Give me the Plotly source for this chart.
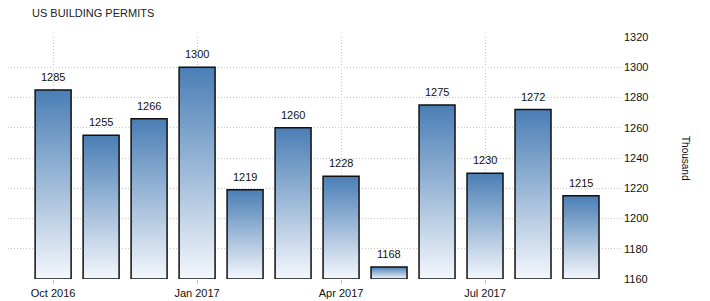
import plotly.graph_objects as go

months = ["Oct 2016", "Nov 2016", "Dec 2016", "Jan 2017", "Feb 2017", "Mar 2017",
          "Apr 2017", "May 2017", "Jun 2017", "Jul 2017", "Aug 2017", "Sep 2017"]
values = [1285, 1255, 1266, 1300, 1219, 1260, 1228, 1168, 1275, 1230, 1272, 1215]
tick_idx = [0, 3, 6, 9]
tick_labels = ["Oct 2016", "Jan 2017", "Apr 2017", "Jul 2017"]
y_ticks = [1160, 1180, 1200, 1220, 1240, 1260, 1280, 1300, 1320]
base = 1160
half_w = 0.375
FONT = "Liberation Sans, Arial"

fig = go.Figure()
for i, v in enumerate(values):
    fig.add_trace(go.Scatter(
        x=[i - half_w, i - half_w, i + half_w, i + half_w, i - half_w],
        y=[base, v, v, base, base],
        mode="lines",
        fill="toself",
        line=dict(color="#111111", width=1.5),
        fillgradient=dict(type="vertical",
                          colorscale=[[0, "#f4f7fc"], [1, "#4a7eb5"]]),
        hoverinfo="skip",
        showlegend=False,
    ))

annotations = [dict(x=i, y=v, xref="x", yref="y", text=str(v), showarrow=False,
                    yanchor="bottom", yshift=5,
                    font=dict(family=FONT, size=11, color="#111111"))
               for i, v in enumerate(values)]
annotations.append(dict(text="Thousand", textangle=90, xref="paper", yref="paper",
                        x=(686 - 8) / 615, y=0.5, xanchor="center", yanchor="middle",
                        showarrow=False,
                        font=dict(family=FONT, size=10, color="#111111")))

grid = dict(showgrid=True, gridcolor="#c8c8c8", griddash="1px,2px", gridwidth=1,
            zeroline=False, showline=False, automargin=False)

fig.update_layout(
    width=710, height=301,
    margin=dict(l=8, r=87, t=37, b=22),
    paper_bgcolor="white", plot_bgcolor="white",
    title=dict(text="US BUILDING PERMITS", x=32/710, xanchor="left", y=1 - 13/301, yanchor="middle",
               font=dict(family=FONT, size=11, color="#222222")),
    xaxis=dict(range=[-0.94, 11.875], tickvals=tick_idx, ticktext=tick_labels,
               ticks="outside", ticklen=4, tickcolor="#c8c8c8",
               tickfont=dict(family=FONT, size=11, color="#111111"), **grid),
    yaxis=dict(range=[1160, 1320], side="right", tickvals=y_ticks, ticks="",
               tickfont=dict(family=FONT, size=11, color="#111111"), **grid),
    annotations=annotations,
)

fig.write_html("out.html")
